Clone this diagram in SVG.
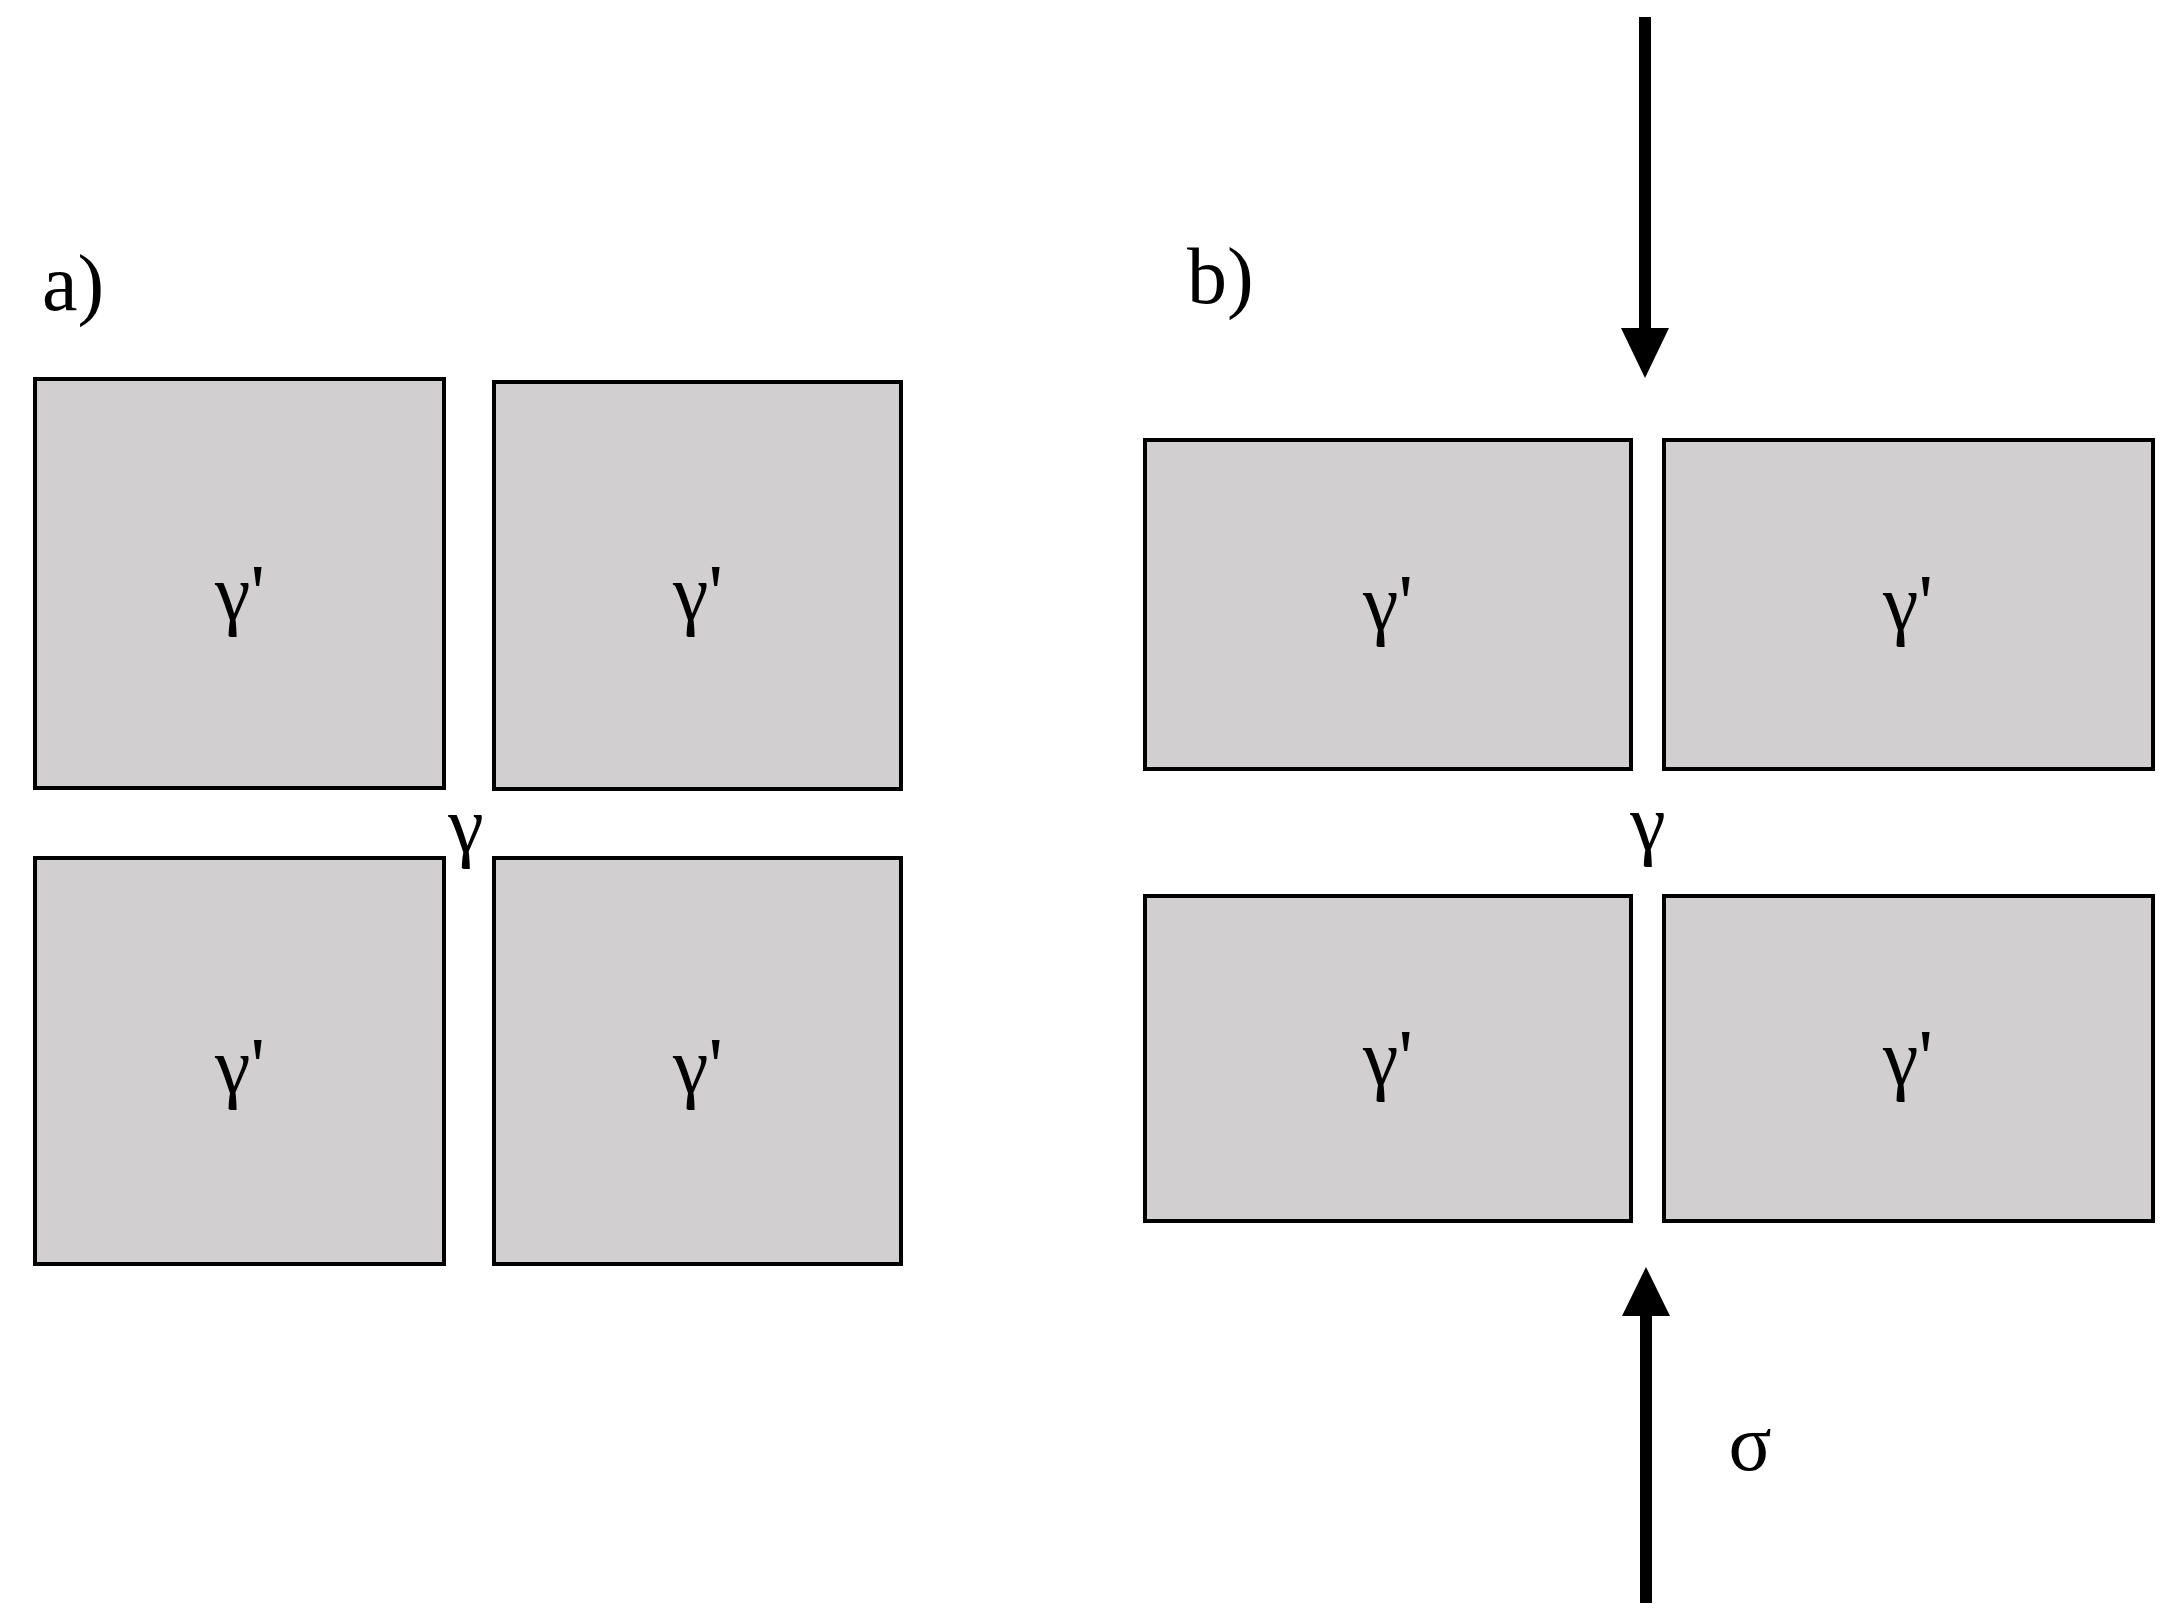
<svg xmlns="http://www.w3.org/2000/svg" width="2183" height="1623" viewBox="0 0 2183 1623">
<style>
.b{fill:#d1cfd0;stroke:#000;stroke-width:4}
.t{font-family:"Liberation Serif",serif;font-size:80px;text-anchor:middle;fill:#000}
</style>
<rect width="2183" height="1623" fill="#fff"/>
<text x="42" y="310" class="t" style="text-anchor:start">a)</text>
<text x="1187" y="303" class="t" style="text-anchor:start">b)</text>
<g id="a1"><rect class="b" x="35" y="379" width="409" height="409"/><text class="t" x="240" y="620">γ'</text></g>
<g id="a2"><rect class="b" x="494" y="382" width="407" height="407"/><text class="t" x="698" y="620">γ'</text></g>
<g id="a3"><rect class="b" x="35" y="858" width="409" height="406"/><text class="t" x="240" y="1093">γ'</text></g>
<g id="a4"><rect class="b" x="494" y="858" width="407" height="406"/><text class="t" x="698" y="1093">γ'</text></g>
<text class="t" x="466" y="852">γ</text>
<g id="b1"><rect class="b" x="1145" y="440" width="486" height="329"/><text class="t" x="1388" y="630">γ'</text></g>
<g id="b2"><rect class="b" x="1664" y="440" width="489" height="329"/><text class="t" x="1908" y="630">γ'</text></g>
<g id="b3"><rect class="b" x="1145" y="896" width="486" height="325"/><text class="t" x="1388" y="1085">γ'</text></g>
<g id="b4"><rect class="b" x="1664" y="896" width="489" height="325"/><text class="t" x="1908" y="1085">γ'</text></g>
<text class="t" x="1648" y="850">γ</text>
<text class="t" x="1750" y="1470">σ</text>
<g id="connectors">
<line x1="1645" y1="17" x2="1645" y2="335" stroke="#000" stroke-width="12"/>
<polygon points="1621,328 1669,328 1645,378"/>
<line x1="1646" y1="1603" x2="1646" y2="1310" stroke="#000" stroke-width="12"/>
<polygon points="1622,1316 1670,1316 1646,1267"/>
</g>
</svg>
